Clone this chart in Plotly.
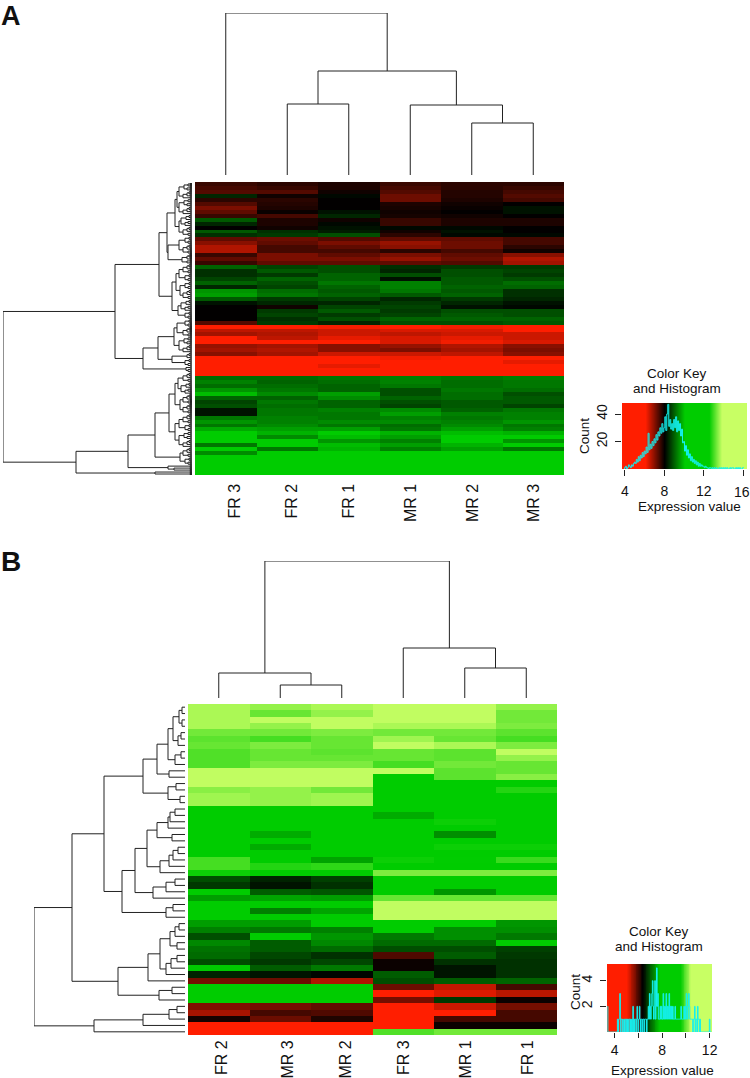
import numpy as np
import plotly.graph_objects as go

W, H = 750, 1078
FONT = "Liberation Sans"
LINE = "#222222"
CYAN = "#14f0f0"

COLOR_STOPS = [[0, "rgb(255,30,0)"], [0.19, "rgb(255,30,0)"], [0.34, "rgb(0,0,0)"],
               [0.50, "rgb(0,204,0)"], [0.70, "rgb(0,204,0)"],
               [0.80, "rgb(200,255,100)"], [1, "rgb(200,255,100)"]]

# ---------------- Panel A data ----------------
columns_a = ["FR 3", "FR 2", "FR 1", "MR 1", "MR 2", "MR 3"]
label_x_a = [234, 291, 348, 410, 472, 533]
matrix_a = [
    [7.6,7.7,7.8,7.6,7.7,7.7],[7.5,7.6,7.8,7.5,7.7,7.6],[7.4,7.4,7.9,7.4,7.75,7.5],
    [8.4,7.9,8.1,7.2,7.75,7.4],[7.7,7.7,8.0,7.2,7.8,7.5],[7.4,7.75,8.0,7.8,7.9,8.0],
    [7.1,7.8,8.0,7.85,7.95,8.2],[7.3,7.95,8.2,7.9,8.0,8.2],[7.6,7.5,8.4,7.85,7.9,8.0],
    [8.9,7.8,7.9,7.6,7.8,7.8],[8.4,7.8,8.1,7.6,7.8,7.8],[8.0,7.9,8.2,8.1,8.1,8.0],
    [8.9,8.5,8.3,7.9,8.2,8.0],[8.5,8.6,8.8,7.7,8.1,8.1],[7.3,7.2,7.4,7.3,7.3,7.5],
    [7.0,7.3,7.1,6.9,7.2,7.5],[6.7,7.5,7.3,7.0,7.2,7.7],[6.7,7.5,7.5,7.7,7.5,7.9],
    [7.6,7.1,7.3,7.1,7.3,7.0],[7.3,7.1,7.1,6.9,7.2,6.7],[7.6,7.3,7.3,7.3,7.4,6.8],
    [9.0,8.7,8.8,8.5,8.6,8.6],[8.5,8.9,8.8,8.4,8.8,8.7],[8.5,8.6,9.0,8.8,8.8,8.6],
    [8.7,9.0,9.0,8.2,8.9,8.8],[9.0,8.8,9.2,9.3,8.9,9.1],[8.4,8.7,9.0,9.3,9.0,9.0],
    [9.5,9.1,8.9,9.2,8.9,8.5],[9.6,9.2,9.0,8.9,9.0,8.5],[8.9,8.6,8.7,8.4,8.6,8.4],
    [8.2,8.4,8.4,8.6,8.4,8.2],[8.0,7.9,8.7,8.7,8.2,8.1],[8.0,8.6,8.9,8.6,8.8,8.8],
    [8.0,8.7,8.6,8.7,8.9,8.8],[8.0,8.5,8.8,9.0,9.0,9.0],[7.4,8.6,8.4,8.8,8.8,8.9],
    [6.0,5.9,6.2,5.8,6.2,5.9],[6.6,6.6,6.5,6.4,6.4,6.1],[6.8,6.7,6.5,6.6,6.5,6.5],
    [5.9,6.6,6.3,6.4,6.3,6.5],[6.0,6.0,6.0,6.4,6.2,6.4],[6.9,6.8,7.0,6.9,6.7,7.0],
    [6.8,6.7,7.0,7.1,6.8,7.1],[7.0,6.8,6.5,6.5,6.6,7.0],[5.9,6.0,6.1,6.2,6.0,6.0],
    [5.7,5.9,6.0,6.1,5.9,6.3],[5.6,5.9,6.3,5.9,5.9,6.0],[5.5,5.6,5.7,5.6,5.7,5.6],
    [5.5,5.5,5.6,5.5,5.6,5.5],
    [9.1,9.1,9.2,9.3,9.2,9.3],[9.3,9.0,9.1,9.3,9.1,9.2],[9.1,9.1,9.0,9.2,9.1,9.2],
    [9.5,9.2,9.0,8.8,9.2,9.1],[9.9,9.4,9.6,8.8,9.1,8.8],[9.0,9.0,9.4,9.0,9.1,8.9],
    [8.7,9.2,9.0,8.8,8.9,8.9],[8.8,9.1,9.0,8.7,8.9,8.7],[8.2,9.2,9.3,9.4,9.0,9.2],
    [8.2,9.2,9.2,9.6,9.3,9.3],[9.2,9.3,9.2,9.3,9.2,9.3],[9.5,9.3,9.4,9.4,9.3,9.5],
    [9.2,9.4,9.2,9.1,9.4,9.2],[9.7,9.6,9.6,9.2,9.6,9.3],[10.1,9.8,10.1,9.8,9.9,9.8],
    [10.1,9.4,9.9,9.6,10.1,10.1],[10.1,10.1,9.5,9.3,10.1,9.5],[9.2,10.1,9.9,9.6,9.8,10.1],
    [10.1,9.2,9.8,9.3,9.6,9.2],[9.4,10.1,10.1,10.1,10.1,10.1],[10.1,10.1,10.1,10.1,10.1,10.1],
    [10.1,10.1,10.1,10.1,10.1,10.1],[10.1,10.1,10.1,10.1,10.1,10.1],[10.1,10.1,10.1,10.1,10.1,10.1],[10.1,10.1,10.1,10.1,10.1,10.1],
]
col_tree_a = [162, 1, [104, [71, 1, 1], [70, 1, [52, 1, 1]]]]

p = [2, 1, 1]
m3 = [5, [3, p, p], p]
m4 = [7, [3, p, p], [4, p, p]]
m5 = [9, [5, [3, p, p], p], [4, p, p]]
m6 = [11, [6, [3, p, p], p], [7, [4, p, p], p]]
m8 = [13, [8, [4, p, p], [5, p, p]], [9, [5, [3, p, p], p], p]]
u1a = [25, [17, [15, m8, m8], [13, m6, m5]], [24, [13, m4, m5], [10, m3, [5, p, p]]]]
u1b = [20, [16, [13, m5, m4], [12, m4, m5]], [14, m6, m4]]
u2 = [49, [34, [18, [15, m4, m5], m8], [20, m3, m4]], [6, p, [4, p, p]]]
l1 = [64, [37, [23, [17, [14, m5, m6], [12, m5, m5]], [17, [13, m5, m4], m8]], [12, m5, m4]],
      [24, p, [18, p, p]]]
row_tree_a = [189, [77, [33, u1a, u1b], u2], [116, l1, [37, p, p]]]

hist_start_a, hist_width_a = 3.9, 0.1
hist_a = [0,
    1,2,0,1,3,2,1,3,2,4,
    5,4,7,5,9,6,10,8,12,9,
    13,11,16,12,26,14,18,15,20,17,
    22,19,25,21,27,24,30,26,33,27,
    30,38,28,40,47,31,36,29,33,28,
    36,30,38,27,35,28,33,24,29,19,
    20,13,17,10,14,8,11,6,9,5,
    7,4,6,3,5,2,4,2,3,2,
    2,1,2,1,1,0,1,1,0,1,
    0,1,0,1,0,0,1,0,1,0,
    1,0,1,0,1,0,0,1,0,1,
    1,0,0,1,0,1,0,1,0,0,
    1,1]
key_ticks_a = [4, 8, 12, 16]
key_labels_a = ["4", "8", "12", ""]
count_ticks_a = [20, 40]

# ---------------- Panel B data ----------------
columns_b = ["FR 2", "MR 3", "MR 2", "FR 3", "MR 1", "FR 1"]
label_x_b = [221, 287, 345, 403, 465, 527]
matrix_b = [
    [10.3,10.2,10.3,10.4,10.4,10.2],[10.3,10.0,10.2,10.4,10.4,10.05],[10.3,10.4,10.4,10.4,10.4,10.05],
    [10.3,10.2,10.4,10.3,10.3,10.1],[10.05,10.05,10.1,10.05,10.05,9.95],[9.95,9.85,10.0,10.25,10.0,9.85],
    [10.0,10.1,10.0,10.4,10.3,10.1],[9.9,10.0,9.95,10.0,9.95,10.4],[9.9,10.0,10.0,10.0,9.95,10.2],
    [9.9,10.1,10.1,9.85,10.05,10.0],[10.4,10.4,10.4,10.4,9.95,10.0],[10.4,10.4,10.4,9,9.95,10.15],
    [10.4,10.4,10.4,9,9,9],[10.15,10.2,10.05,9,9,9.7],[10.25,10.2,10.25,9,9,9],
    [10.25,10.2,10.25,9,9,9],[9,9,9,9,9,9],[9,9,9,7.55,9,9],
    [9,9,9,9,9.6,9],[9,9,9,9,9,9],[9,7.55,9,9,7.35,9],
    [9,9,9,9,9,9],[9,7.55,9,9,9.6,9.6],[9,9,9,9,9,9],
    [9.85,9,7.5,9.6,9.55,9.8],[9.85,9.7,9.75,9,9,9],[9.6,9,9,10.1,10.1,10.1],
    [6.9,6.6,6.8,9,9,9],[6.75,6.5,6.7,9,9,9],[9,7.0,6.95,9,7.4,9],
    [7.45,7.5,7.45,10.0,10.0,10.0],[9,9,9,10.4,10.4,10.4],[9,7.25,7.5,10.4,10.4,10.4],
    [9,9,9,10.4,10.4,10.4],[7.45,7.45,9,9,9,7.4],[7.25,7.2,7.25,9,7.35,7.35],
    [6.9,9,7.4,7.2,7.35,7.2],[7.3,7.0,7.3,7.1,7.1,9],[7.15,7.0,7.1,6.9,6.9,6.8],
    [7.1,6.85,6.7,5.95,7.0,6.75],[6.9,6.75,6.85,6.3,6.7,6.7],[9,7.0,7.2,6.3,6.5,6.7],
    [6.6,6.5,6.4,7.0,6.5,6.7],[5.75,5.8,5.45,6.9,7.0,7.05],[9,9,9,5.8,5.35,6.0],
    [9,9,9,4.8,5.2,5.4],[9,9,9,5.75,6.75,6.3],[5.7,5.75,5.85,4.8,5.3,5.75],
    [5.5,6.0,5.95,4.8,4.9,6.0],[6.25,5.8,6.2,4.8,6.0,6.0],[4.5,4.5,4.5,4.8,6.3,6.3],
    [4.5,4.5,4.5,9.9,10.05,10.05],
]
col_tree_b = [137, [25, 1, [13, 1, 1]], [50, 1, [30, 1, 1]]]

b_top = [42, [28, [17, [12, [6, [3, 1, 1], [3, 1, 1]], [7, [4, 1, 1], 1]], [10, [4, 1, 1], 1]],
              [16, 1, 1]],
         [17, [9, 1, 1], [5, 1, 1]]]
b_mid = [63, [50, [38, [28, [17, [15, [10, 1, 1], 1], 1], [13, 1, 1]],
                   [25, [16, [12, [7, 1, 1], 1], 1], 1]],
              [32, [19, [10, 1, 1], 1], 1]],
         [19, [12, 1, 1], 1]]
b_low = [67, [37, [25, [15, [10, [6, 1, 1], 1], [8, 1, 1]], [19, [14, [8, 1, 1], 1], 1]], 1],
         [26, [13, 1, 1], 1]]
row_tree_b = [151, [113, [81, b_top, b_mid], b_low], [91, [42, [16, [8, 1, 1], 1], 1], 1]]

hist_start_b, hist_width_b = 3.4, 0.05
hist_b = [
    2,0,0,0,0,0,0,0,0,0,0,0,0,0,0,0,0,1,0,1,
    1,3,0,1,1,0,1,0,0,1,1,0,1,0,1,0,1,1,0,1,
    0,1,0,2,0,1,0,1,1,0,2,1,0,1,2,1,0,1,1,0,
    1,1,0,1,1,1,0,1,1,2,1,3,2,1,2,3,4,2,1,2,
    4,1,2,5,2,3,1,1,1,2,1,2,1,1,3,1,2,1,2,3,
    1,2,1,2,3,1,2,1,2,1,2,1,1,1,2,1,1,1,1,1,
    1,1,1,1,2,1,1,1,1,2,1,2,1,3,2,1,2,3,2,1,
    1,1,1,1,0,1,1,2,0,1,1,0,2,1,1,0,1,0,0,0,
    0,0,0,0,0,0,0,0,0,0,0,0,1,0,0,0]
key_ticks_b = [4, 6, 8, 10, 12]
key_labels_b = ["4", "", "8", "", "12"]
count_ticks_b = [2, 4]


def dendro(tree):
    """Turn a nested [height, left, right] tree (1 = leaf) into line segments."""
    xs, ys = [], []
    next_leaf = [0]

    def walk(node):
        if node == 1:
            pos = next_leaf[0]
            next_leaf[0] += 1
            return pos, 0
        h, a, b = node
        pa, ha = walk(a)
        pb, hb = walk(b)
        xs.extend([pa, pa, pb, pb, None])
        ys.extend([ha, h, h, hb, None])
        return (pa + pb) / 2, h

    walk(tree)
    return xs, ys, next_leaf[0]


def dom(x0, x1, y0, y1):
    return [x0 / W, x1 / W], [1 - y1 / H, 1 - y0 / H]


fig = go.Figure()
layout = {}
n_ax = [0]


def new_axes(box, xopt, yopt):
    n_ax[0] += 1
    i = n_ax[0]
    dx, dy = dom(*box)
    layout[f"xaxis{i}"] = dict(domain=dx, anchor=f"y{i}", showgrid=False, zeroline=False, automargin=False,
                               showline=False, showticklabels=False, ticks="", **xopt)
    layout[f"yaxis{i}"] = dict(domain=dy, anchor=f"x{i}", showgrid=False, zeroline=False, automargin=False,
                               showline=False, showticklabels=False, ticks="", **yopt)
    return f"x{i}", f"y{i}"


def panel(columns, matrix, col_tree, row_tree, heat, col_box, row_box, zr, key_box, key_r,
          hist, start, width, count_max, key_ticks, key_labels, count_ticks, tick_len, tick_off):
    n_rows = len(matrix)
    # heat map
    xa, ya = new_axes(heat, dict(range=[-0.5, 5.5], type="category"),
                      dict(range=[n_rows - 0.5, -0.5]))
    fig.add_trace(go.Heatmap(z=matrix, x=columns, y=list(range(n_rows)), colorscale=COLOR_STOPS,
                             zmin=zr[0], zmax=zr[1], showscale=False, xaxis=xa, yaxis=ya,
                             hoverinfo="skip"))
    # column dendrogram
    xs, ys, _ = dendro(col_tree)
    xa, ya = new_axes(col_box, dict(range=[-0.5, 5.5]), dict(range=[0, col_tree[0]]))
    fig.add_trace(go.Scatter(x=xs, y=ys, mode="lines", line=dict(color=LINE, width=1),
                             xaxis=xa, yaxis=ya, cliponaxis=False, hoverinfo="skip"))
    # row dendrogram
    xs, ys, n = dendro(row_tree)
    xa, ya = new_axes(row_box, dict(range=[row_tree[0], 0]), dict(range=[n - 0.5, -0.5]))
    fig.add_trace(go.Scatter(x=ys, y=xs, mode="lines", line=dict(color=LINE, width=1),
                             xaxis=xa, yaxis=ya, cliponaxis=False, hoverinfo="skip"))
    # colour key with histogram
    xa, ya = new_axes(key_box, dict(range=key_r), dict(range=[0, count_max]))
    levels = np.linspace(key_r[0], key_r[1], 128)
    fig.add_trace(go.Heatmap(z=[levels, levels], x=levels, y=[0, count_max], colorscale=COLOR_STOPS,
                             zmin=zr[0], zmax=zr[1], showscale=False, xaxis=xa, yaxis=ya,
                             hoverinfo="skip"))
    bins = [start + width * i for i in range(len(hist))]
    fig.add_trace(go.Scatter(x=bins, y=hist, mode="lines", line=dict(color=CYAN, width=1, shape="hvh"),
                             xaxis=xa, yaxis=ya, hoverinfo="skip"))
    tf = dict(family=FONT, size=14, color="#111")
    layout["xaxis" + xa[1:]].update(showticklabels=True, ticks="outside", ticklen=tick_len, tickwidth=1,
                                    tickcolor="#222", tickvals=key_ticks, ticktext=key_labels,
                                    tickfont=tf, ticklabelstandoff=tick_off)
    layout["yaxis" + ya[1:]].update(showticklabels=True, ticks="outside", ticklen=6, tickwidth=1,
                                    tickcolor="#222", tickvals=count_ticks, tickangle=-90,
                                    tickfont=tf, ticklabelstandoff=2)


panel(columns_a, matrix_a, col_tree_a, row_tree_a,
      (195, 564, 182, 475), (195, 564, 13, 175), (3, 192, 183, 475), (3.7, 16.4),
      (622, 747, 403, 469), [3.7, 16.4], hist_a, hist_start_a, hist_width_a, 48,
      key_ticks_a, key_labels_a, count_ticks_a, 6, 3)
panel(columns_b, matrix_b, col_tree_b, row_tree_b,
      (188, 557, 704, 1035), (188, 557, 561, 698), (34, 185, 704, 1035), (3.35, 12.2),
      (607, 712, 964, 1032), [3.35, 12.2], hist_b, hist_start_b, hist_width_b, 5.3,
      key_ticks_b, key_labels_b, count_ticks_b, 5, 0)


def label(text, x, y, size=14, bold=False, angle=0, yanchor="middle"):
    return dict(text=f"<b>{text}</b>" if bold else text, x=x / W, y=1 - y / H, xref="paper", yref="paper",
                showarrow=False, textangle=angle, xanchor="center", yanchor=yanchor, borderpad=0,
                font=dict(family=FONT, size=size, color="#111"))


annotations = [
    label("A", 11, 16, size=27, bold=True),
    label("B", 11, 561, size=28, bold=True),
    label("16", 742, 492, size=14),
    label("Color Key", 677, 373, size=13.5),
    label("and Histogram", 677, 388, size=13.5),
    label("Expression value", 689, 507, size=13.5),
    label("Count", 585, 436, size=13.5, angle=-90),
    label("Color Key", 659, 931, size=13.5),
    label("and Histogram", 659, 946, size=13.5),
    label("Expression value", 662, 1070, size=13.5),
    label("Count", 575, 992, size=13.5, angle=-90),
]
annotations += [label(t, x, 483, size=16, angle=-90, yanchor="top") for t, x in zip(columns_a, label_x_a)]
annotations += [label(t, x, 1039.5, size=16, angle=-90, yanchor="top") for t, x in zip(columns_b, label_x_b)]

fig.update_layout(width=W, height=H, margin=dict(l=0, r=0, t=0, b=0), paper_bgcolor="white",
                  plot_bgcolor="white", showlegend=False, annotations=annotations, **layout)
css = "document.body.style.cssText='margin:0;padding:0';"
fig.write_html("out.html", post_script=css, config={"displayModeBar": False})
